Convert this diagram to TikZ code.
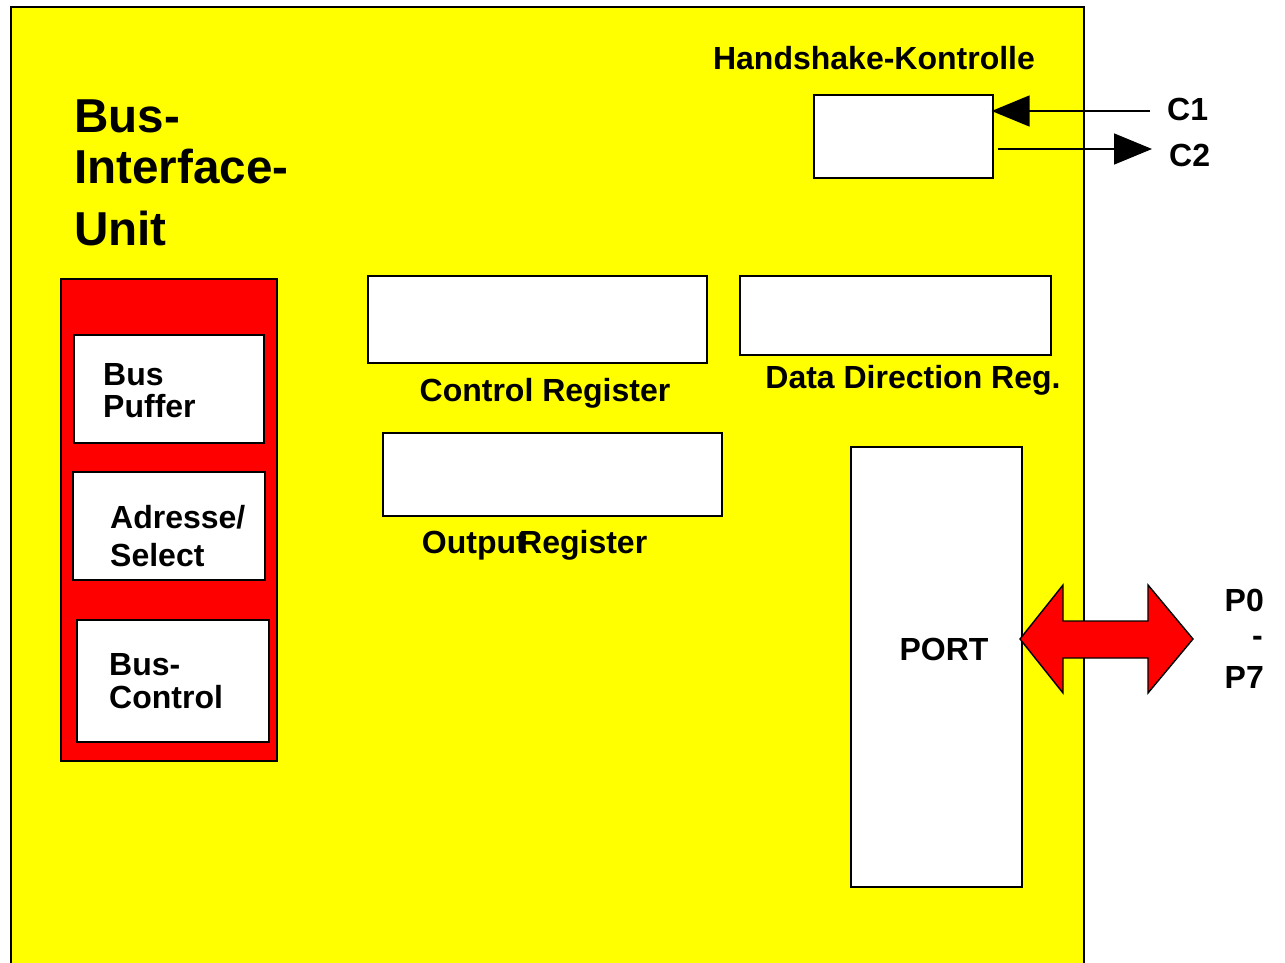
\documentclass[tikz,border=0pt]{standalone}
\usepackage{fontspec}
\setmainfont{Liberation Sans}
\usetikzlibrary{arrows.meta}
\definecolor{yel}{RGB}{255,255,0}
\definecolor{rd}{RGB}{255,0,0}
\begin{document}
\begin{tikzpicture}[x=1pt,y=-1pt,
  box/.style={draw=black,line width=1.6pt,fill=white},
  lbl/.style={font=\fontsize{32}{32}\selectfont\bfseries,inner sep=0pt},
  big/.style={font=\fontsize{47.6}{47.6}\selectfont\bfseries,inner sep=0pt},
  sig/.style={line width=1.6pt,-{Triangle[length=38pt,width=31pt]}}]
\useasboundingbox (0,0) rectangle (1285,963);
\fill[white] (0,0) rectangle (1285,963);
\begin{scope}
\clip (0,0) rectangle (1285,963);
\draw[line width=1.6pt,fill=yel] (11,7) rectangle (1084,990);
\end{scope}
% title
\node[big,anchor=base west] (t1) at (74,133) {Bus-};
\node[big,anchor=base west] (t2) at (74,183) {Interface-};
\node[big,anchor=base west] (t3) at (74,245) {Unit};
% red block
\draw[line width=1.6pt,fill=rd] (61,279) rectangle (277,761);
\draw[box] (74,335) rectangle (264,443);
\draw[box] (73,472) rectangle (265,580);
\draw[box] (77,620) rectangle (269,742);
\node[lbl,anchor=base west] (bp1) at (103,385) {Bus};
\node[lbl,anchor=base west] (bp2) at (103,417) {Puffer};
\node[lbl,anchor=base west] (as1) at (110,528) {Adresse/};
\node[lbl,anchor=base west] (as2) at (110,566) {Select};
\node[lbl,anchor=base west] (bc1) at (109,675) {Bus-};
\node[lbl,anchor=base west] (bc2) at (109,708) {Control};
% registers
\draw[box] (368,276) rectangle (707,363);
\node[lbl,anchor=base] (cr) at (545,401) {Control Register};
\draw[box] (740,276) rectangle (1051,355);
\node[lbl,anchor=base] (ddr) at (913,388) {Data Direction Reg.};
\draw[box] (383,433) rectangle (722,516);
\node[lbl,anchor=base east] (or1) at (527,553) {Output};
\node[lbl,anchor=base west] (or2) at (519,553) {Register};
% port
\node[box,minimum width=171pt,minimum height=440pt,anchor=north west,inner sep=0pt] (port) at (850,446) {};
\node[lbl,anchor=base] (portl) at (944,660) {PORT};
% handshake
\node[lbl,anchor=base] (hk) at (874,70) {Handshake-Kontrolle};
\node[box,minimum width=179pt,minimum height=83pt,anchor=north west,inner sep=0pt] (hs) at (813,94) {};
\node[lbl,anchor=base west] (c1) at (1167,121) {C1};
\node[lbl,anchor=base west] (c2) at (1169,166) {C2};
\coordinate (c1s) at (1150,111);
\coordinate (c2e) at (1152,149);
\draw[sig] (c1s) -- ([xshift=-2pt]hs.east |- c1s);
\draw[sig] (hs.east |- c2e) ++(4,0) -- (c2e);
% double arrow
\filldraw[fill=rd,draw=black,line width=1.4pt]
  (1020,639) -- (1063,585) -- (1063,621) -- (1148,621) -- (1148,585)
  -- (1193,639) -- (1148,693) -- (1148,658) -- (1063,658) -- (1063,693) -- cycle;
\node[lbl,anchor=base east] (p0) at (1264,611) {P0};
\node[lbl,anchor=base east] (pd) at (1263,646) {-};
\node[lbl,anchor=base east] (p7) at (1264,688) {P7};
\end{tikzpicture}
\end{document}
